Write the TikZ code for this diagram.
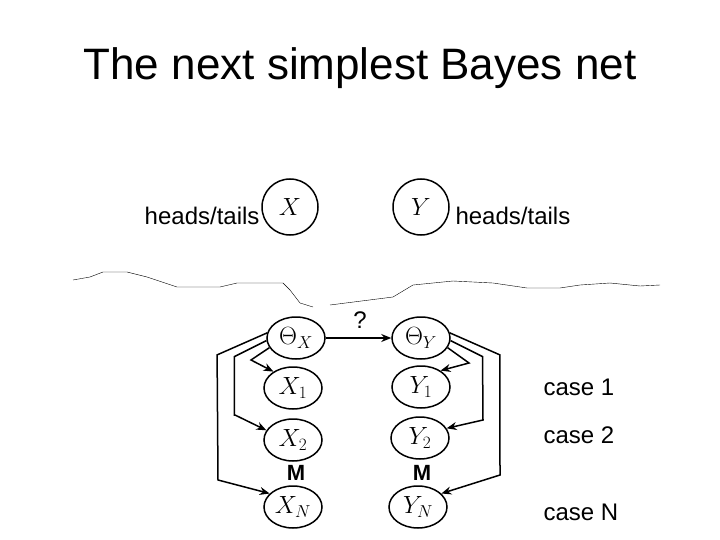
\documentclass[tikz,border=0pt]{standalone}
\usepackage{fontspec}
\setmainfont{Liberation Sans}
\usetikzlibrary{arrows.meta,shapes.geometric}
\begin{document}
\begin{tikzpicture}[x=1pt,y=-1pt,
  circ/.style={draw,line width=1.5pt,circle,minimum size=56pt,inner sep=0pt,font=\fontsize{30}{32}\selectfont},
  ell/.style={draw,line width=1.5pt,ellipse,minimum width=58pt,minimum height=42pt,inner sep=0pt,font=\fontsize{23}{25}\selectfont},
  lab/.style={font=\fontsize{24}{27}\selectfont},
  arr/.style={line width=1.5pt,-{Stealth[length=10pt,width=8pt]}}]
\useasboundingbox (0,0) rectangle (720,540);
\node[font=\fontsize{44}{48}\selectfont] (title) at (360,68) {The next simplest Bayes net};
\node[circ] (X) at (290,207) {$X$};
\node[circ] (Y) at (421,207) {$Y$};
\node[lab,anchor=east] (hl) at (263,216) {heads/tails};
\node[lab,anchor=west] (hr) at (452,216) {heads/tails};
\draw (73,280) -- (90,277) -- (103,272) -- (127,272) -- (147,277) -- (177,287) -- (220,287) -- (237,283) -- (283,283) -- (290,290) -- (300,303) -- (313,307) (330,305) -- (393,297) -- (413,285) -- (453,281) -- (493,283) -- (527,288) -- (560,288) -- (580,285) -- (610,283) -- (640,286) -- (660,285);
\node[ell] (TX) at (296,338) {$\Theta_X$};
\node[ell] (TY) at (421,338) {$\Theta_Y$};
\node[ell] (X1) at (293,388) {$X_1$};
\node[ell] (X2) at (293,440) {$X_2$};
\node[ell] (XN) at (293,507) {$X_N$};
\node[ell] (Y1) at (421,387) {$Y_1$};
\node[ell] (Y2) at (420,438) {$Y_2$};
\node[ell] (YN) at (418,507) {$Y_N$};
\node[font=\fontsize{22}{24}\selectfont\bfseries] (mx) at (296,473) {M};
\node[font=\fontsize{22}{24}\selectfont\bfseries] (my) at (422,473) {M};
\node[lab] (q) at (360,320) {?};
\node[lab,anchor=west] (c1) at (540,387) {case 1};
\node[lab,anchor=west] (c2) at (540,435) {case 2};
\node[lab,anchor=west] (cN) at (540,512) {case N};
\draw[arr] (TX) -- (TY);
\draw[arr] (TX.200) -- (251,360) -- (X1.140);
\draw[arr] (TX.185) -- ++(-32,16) |- (235,415) -- (X2.160);
\draw[arr] (TX.170) -- ++(-50,22) -- (218,480) -- (XN.150);
\draw[arr] (TY.340) -- (469,363) -- (Y1.40);
\draw[arr] (TY.355) -- ++(32,16) -- (483,420) -- (Y2.20);
\draw[arr] (TY.10) -- ++(50,22) -- (500,475) -- (YN.30);
\end{tikzpicture}
\end{document}
